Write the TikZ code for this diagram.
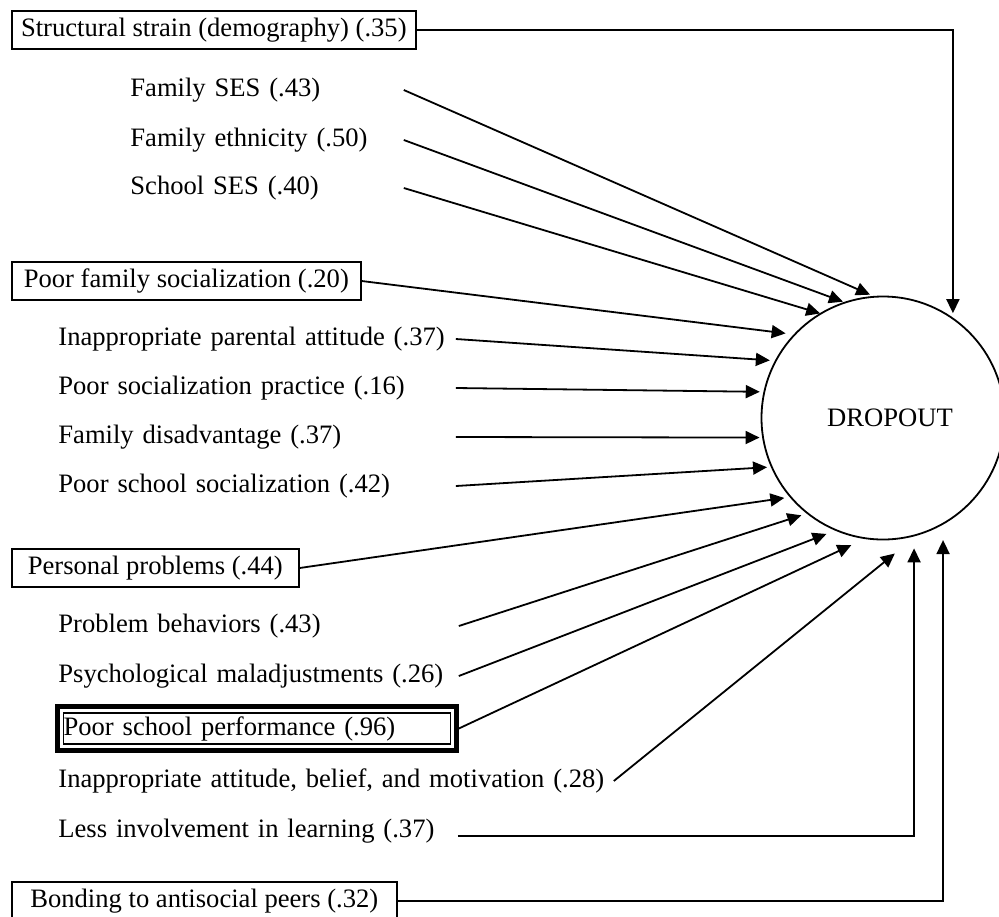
\documentclass[tikz,border=0pt]{standalone}
\usepackage{fontspec}
\setmainfont{Liberation Serif}
\usetikzlibrary{arrows.meta,fit}

\tikzset{
    factor/.style={draw, line width=0.8pt, anchor=west, minimum height=19pt, inner sep=0pt},
    indicator/.style={anchor=west, inner sep=0pt, align=left, text width=#1},
    arr/.style={-{Triangle[length=7pt,width=6.5pt]}, line width=0.9pt},
}

\begin{document}
\begin{tikzpicture}[x=0.5pt, y=0.5pt, font=\fontsize{13.3pt}{16pt}\selectfont]
    \useasboundingbox (0,0) rectangle (999,-916);
    \clip (0,0) rectangle (999,-916);

    % Outcome
    \node[circle, draw, line width=0.9pt, minimum size=121.5pt, inner sep=0pt] (dropout) at (883,-418) {\hspace*{7pt}DROPOUT};

    % Structural strain
    \node[factor, minimum width=202pt] (strain) at (11,-30) {Structural strain (demography) (.35)};
    \node[indicator=136.5pt] (famses) at (130,-90) {Family SES (.43)};
    \node[indicator=136.5pt] (fameth) at (130,-140) {Family ethnicity (.50)};
    \node[indicator=136.5pt] (schses) at (130,-188) {School SES (.40)};

    % Family socialization
    \node[factor, minimum width=174.5pt] (famsoc) at (11,-281) {Poor family socialization (.20)};
    \node[indicator=198.5pt] (paratt) at (58,-339) {Inappropriate parental attitude (.37)};
    \node[indicator=198.5pt] (socprac) at (58,-388) {Poor socialization practice (.16)};
    \node[indicator=198.5pt] (famdis) at (58,-437) {Family disadvantage (.37)};
    \node[indicator=198.5pt] (schsoc) at (58,-486) {Poor school socialization (.42)};

    % Personal problems
    \node[factor, minimum width=143.5pt] (personal) at (11,-568) {Personal problems (.44)};
    \node[indicator=200pt] (probbeh) at (58,-626) {Problem behaviors (.43)};
    \node[indicator=200pt] (psymal) at (58,-676) {Psychological maladjustments (.26)};
    \node[anchor=west, draw, line width=0.6pt, inner sep=0pt, text width=193.5pt, minimum height=15.5pt] (perf) at (63,-728.5) {Poor school performance (.96)};
    \node[fit=(perf), draw, line width=2.4pt, inner xsep=2.6pt, inner ysep=2.9pt] (perfframe) {};
    \node[indicator=277.5pt] (attbel) at (58,-781) {Inappropriate attitude, belief, and motivation (.28)};
    \node[indicator=199.5pt] (lessinv) at (58,-831) {Less involvement in learning (.37)};

    % Peers
    \node[factor, minimum width=192.5pt] (peers) at (11,-901) {Bonding to antisocial peers (.32)};

    % Paths into the circle
    \draw[arr] (strain.east) -| ([shift={(56.3:126)}]dropout.center);
    \draw[arr] (famses.east) -- ([shift={(96:124)}]dropout.center);
    \draw[arr] (fameth.east) -- ([shift={(109:123)}]dropout.center);
    \draw[arr] (schses.east) -- ([shift={(121:122)}]dropout.center);
    \draw[arr] (famsoc.east) -- ([shift={(139:129)}]dropout.center);
    \draw[arr] (paratt.east) -- ([shift={(153:127)}]dropout.center);
    \draw[arr] (socprac.east) -- ([shift={(168:126)}]dropout.center);
    \draw[arr] (famdis.east) -- ([shift={(189:125)}]dropout.center);
    \draw[arr] (schsoc.east) -- ([shift={(203:126)}]dropout.center);
    \draw[arr] (personal.east) -- ([shift={(219:127)}]dropout.center);
    \draw[arr] (probbeh.east) -- ([shift={(230:127)}]dropout.center);
    \draw[arr] (psymal.east) -- ([shift={(244:129)}]dropout.center);
    \draw[arr] (perfframe.east) -- ([shift={(256:131)}]dropout.center);
    \draw[arr] (attbel.east) -- ([shift={(275:136)}]dropout.center);
    \draw[arr] ([yshift=-2.5pt]lessinv.east) -| ([shift={(283.4:134)}]dropout.center);
    \draw[arr] (peers.east) -| ([shift={(296.2:136)}]dropout.center);
\end{tikzpicture}
\end{document}
